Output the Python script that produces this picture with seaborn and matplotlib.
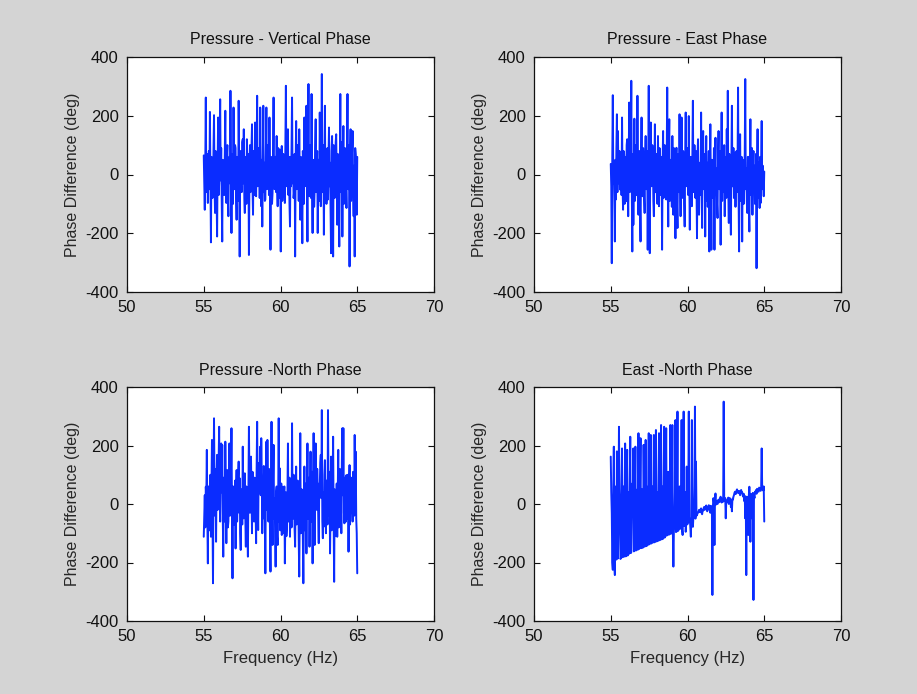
import numpy as np
import pandas as pd
import matplotlib
matplotlib.use("Agg")
import matplotlib.pyplot as plt
import seaborn as sns

# Panel titles and axis labels
titles = ["Pressure - Vertical Phase", "Pressure - East Phase",
          "Pressure -North Phase", "East -North Phase"]
x_label = "Frequency (Hz)"
y_label = "Phase Difference (deg)"
x_ticks = [50, 55, 60, 65, 70]
y_ticks = [-400, -200, 0, 200, 400]

# Phase differences (deg), 300 frequency bins between 55 and 65 Hz
pressure_vertical = [
    65, -30, -120, 40, 262, -60, -40, 70, -97, 20, 80, -50, 213, -20, -231, 60, 50, -80, -60, 90,
    202, -40, -131, 80, 70, -60, -211, 30, 194, -70, -30, 100, 256, -20, 90, -90, -228, 50, 40, -60,
    -70, 90, 217, -50, -97, 60, 100, -80, -142, 40, 60, -30, 285, 20, -199, 70, 50, -100, 228, -40,
    -50, 100, 90, -70, -154, 60, 30, -90, 251, 30, -279, 50, 80, -40, -60, 110, 120, -30, 154, -80,
    -131, 40, 60, -100, 120, 30, -80, 70, -274, -20, 100, -60, -40, 90, 171, -50, -137, 80, 70, -70,
    177, -30, -74, 60, 268, -40, -30, 90, 80, -80, 228, 20, -108, 50, -177, 40, 234, -60, 40, -90,
    -85, 70, 228, -50, -20, 100, 90, -70, 194, -30, -256, 60, 30, -100, -63, 80, 262, -20, -50, 60,
    60, -60, 131, -40, -108, 90, 40, -80, 85, 30, -262, 50, 97, -90, -30, 70, 50, -50, -97, 100,
    302, -40, -20, 80, 154, -70, 60, -100, -177, 60, -40, 90, 262, -30, 30, -80, -60, 70, -279, 40,
    182, -50, -40, 100, 70, -90, 154, -20, -154, 60, 50, -70, -234, 80, 20, -100, 194, -40, -30, 90,
    234, -60, -228, 70, 308, -30, -74, 100, 60, -80, 274, -40, -199, 50, 40, -110, -50, 90, 188, -60,
    20, 80, -199, -20, 50, -90, 211, 30, -108, 70, 342, -60, -40, 100, -205, 40, 234, -70, 30, -100,
    -60, 90, -85, 60, 160, -40, 40, -110, -268, 80, 131, -50, -279, 100, 50, -80, -20, 110, 137, -30,
    -171, 70, 60, -90, -245, 40, 274, -60, -30, 110, -211, 20, 165, -100, 40, 90, -60, -40, -114, 80,
    274, -30, -50, 100, -313, 60, 154, -90, 40, 80, 148, -60, -142, 30, -279, 90, 68, -40, -137, 60,
]

pressure_east = [
    36, -40, -302, 60, 270, -30, 40, -80, -228, 50, -85, 90, 205, -60, 148, -20, -30, 80, -51, 40,
    60, -70, 194, -40, -120, 80, 70, -100, -40, 60, -91, 100, 120, -30, -142, 40, 245, -60, -20, 90,
    319, -50, -262, 70, -171, 30, 190, -90, -60, 100, 50, -70, 268, -20, -137, 60, 80, -110, -228, 40,
    194, -60, -74, 90, 40, -80, -131, 50, 131, -30, -50, 80, -256, 20, 302, -70, -268, 60, 177, -40,
    -30, 100, 60, -90, -142, 30, 171, -60, -60, 70, 40, -100, 131, -20, -108, 90, 50, -70, -40, 60,
    -256, 40, 148, -80, -20, 100, 70, -40, -85, 60, 296, -30, -177, 80, 188, -90, -50, 50, 30, -110,
    131, -50, -137, 90, 60, -70, -217, 30, 91, -100, -182, 70, 20, -60, 205, -30, -142, 40, 194, -80,
    -40, 80, 50, -100, -177, 60, 211, -40, -30, 90, 40, -70, 199, -20, -188, 50, 60, -90, -108, 70,
    251, -60, -40, 100, 30, -80, 80, -30, -217, 60, 120, -100, -137, 40, 20, -70, 211, -40, -182, 90,
    148, -50, -30, 70, -211, 20, 131, -90, 40, -110, -60, 80, -262, 40, 171, -60, -256, 50, 30, -80,
    -40, 90, -256, 30, 125, -70, 20, -100, -148, 60, 148, -40, -50, 80, -239, 20, 211, -90, 40, -60,
    -30, 100, -142, 40, 60, -80, 154, -30, 285, -60, -165, 70, 20, -100, -205, 50, 234, -40, -40, 90,
    -80, 60, 74, -110, 30, 80, -60, 40, 296, -70, -262, 30, 137, -90, 20, 60, -228, 40, 50, -100,
    -40, 70, 325, -50, 20, -90, -131, 60, 60, -110, -194, 30, 188, -70, -20, 90, -137, 20, 80, -60,
    30, -100, -50, 70, -319, 20, 154, -80, 40, -40, -114, 60, -97, 30, 182, -50, 30, -20, -74, 10,
]

pressure_north = [
    -112, -40, 30, -80, 59, 20, 185, -50, -203, 60, 40, -90, 50, 100, -112, 40, 219, -30, -271, 70,
    293, 60, -40, 120, -129, 80, 168, -20, 30, 140, 264, 10, -60, 110, 207, 40, 202, -30, -180, 90,
    50, -60, 213, 20, -134, 70, 116, -80, -60, 90, 207, -40, -30, 100, 259, -20, -254, 60, 59, -70,
    -20, 80, -152, 40, 116, -60, 20, 90, 145, -30, 88, -100, -157, 50, 30, -70, 196, 10, -49, 70,
    105, -50, -146, 60, 40, -90, -180, 30, 264, 80, -30, 130, 162, 40, -100, 110, 50, -40, -60, 90,
    80, -20, -134, 120, 281, 50, -89, 140, 40, 90, 196, 30, 225, 100, -100, 60, -49, 130, 60, -30,
    -237, 80, 213, -20, 219, 40, -60, 120, 50, -90, -231, 60, 281, 10, -140, 90, 202, -50, 20, -80,
    -214, 40, 60, -110, -140, 20, 293, -60, 122, -90, -40, 70, -106, -20, 59, -100, 20, 60, -203, -40,
    40, -110, -77, 30, 207, -60, -30, 90, -112, 40, 50, -80, 276, -30, -50, 100, 30, -90, -146, 50,
    128, -70, -40, 80, 60, -120, -248, -30, 242, -100, -60, 50, 40, -130, -271, -40, 128, -90, 20, 70,
    -169, 30, 207, -50, -30, 90, -146, 20, 179, -60, 40, 110, -203, 60, 242, -20, -140, 80, 207, 30,
    -20, 120, 50, -40, -134, 70, 60, 140, 168, 20, 321, -60, -117, 40, -77, 100, 150, -30, -100, 80,
    30, -70, 321, 60, -40, 110, -169, -20, 162, -90, 20, 80, 230, -60, -266, 50, 40, -110, -30, 70,
    -112, 40, 185, -80, 20, 120, -40, 60, -100, 140, 259, 30, 259, -30, -66, 90, 30, -60, 99, 10,
    -50, 100, -163, 40, 133, -70, 20, 90, -30, 60, -60, 110, 40, -40, 236, 30, 179, -50, -100, -237,
]

east_north = [
    162, 40, -32, -200, -225, 50, 196, -210, -243, -80, 60, -190, 180, 20, -186, -60, 264, 50, -30, -188,
    -184, 30, 190, -182, 20, 60, -180, -40, 207, -179, -178, 50, 185, -176, 40, -20, -170, 60, 230, -168,
    -165, -30, 70, 40, 190, -162, -160, 55, 196, -159, -158, 10, 50, -156, 242, -154, -152, 60, 225, -151,
    -20, 50, -150, -148, 202, 30, -146, 60, 219, -144, 60, -142, -140, 40, 242, -138, -136, 50, 236, -135,
    -10, 60, -132, 20, 236, -131, -130, 45, 253, -128, 40, -127, -126, 55, 242, -124, -123, 30, 270, -121,
    60, -120, -118, 50, 264, -115, -112, 40, 259, -108, -106, 60, 110, -105, -104, 30, 270, -102, -100, 50,
    270, -98, -214, -90, -72, 40, 287, -96, -95, 60, 316, -92, -90, 20, 60, -85, -80, 50, 287, -88,
    -106, 30, 316, -75, -70, 40, -95, -60, 128, -70, -66, 20, 316, -60, -50, -80, -112, -55, 287, -65,
    -78, -45, -40, 60, 333, -50, 145, -40, -38, -32, -30, -26, -20, -24, -28, -18, -15, -30, -35, -22,
    -22, -14, -10, -20, -18, -8, -5, -15, -25, -10, -12, -4, -20, -12, -30, -6, -15, -10, -311, -8,
    20, 5, -140, 10, 36, -2, 10, 4, 0, 12, 15, 6, 8, 18, 25, 10, 5, 14, 18, 8,
    350, 12, 10, 20, -49, 8, 5, 15, 12, 22, 0, 10, 20, 14, -10, 5, -25, 18, 15, 25,
    30, 38, 42, 34, 35, 46, 50, 40, 38, 44, 45, 36, 30, 42, 48, 38, 40, 30, 25, 35,
    10, 28, -49, 20, -243, 25, 20, -60, -106, 30, 59, 20, -129, 35, 30, -20, -50, 38, -328, 30,
    20, 42, 40, 48, 35, 52, 50, 44, 42, 56, 54, 48, 45, 58, 190, 52, 59, 46, 60, -60,
]

series = [pressure_vertical, pressure_east, pressure_north, east_north]

sns.set_style("ticks")
plt.rcParams["font.family"] = ["Liberation Sans", "DejaVu Sans"]
plt.rcParams.update({
    "axes.unicode_minus": False,
    "xtick.direction": "in",
    "ytick.direction": "in",
    "xtick.top": True,
    "ytick.right": True,
    "xtick.major.size": 4,
    "ytick.major.size": 4,
    "xtick.major.width": 0.8,
    "ytick.major.width": 0.8,
    "axes.linewidth": 0.9,
    "axes.edgecolor": "#111111",
    "xtick.color": "#111111",
    "ytick.color": "#111111",
    "text.color": "#111111",
})

bg = "#d4d4d4"
fig = plt.figure(figsize=(9.17, 6.94), dpi=100, facecolor=bg)

W, H = 917, 694
boxes = [(127, 57, 434, 292), (534, 57, 841, 292),
         (127, 387, 434, 621), (534, 387, 841, 621)]

for k, (box, title, vals) in enumerate(zip(boxes, titles, series)):
    x0, y0, x1, y1 = box
    ax = fig.add_axes([x0 / W, 1 - y1 / H, (x1 - x0) / W, (y1 - y0) / H])
    ax.set_facecolor("white")
    freq = np.linspace(55, 65, len(vals))
    df = pd.DataFrame({"freq": freq, "phase": vals})
    sns.lineplot(data=df, x="freq", y="phase", ax=ax, color="#0a2cff",
                 linewidth=1.4, sort=False, estimator=None)
    ax.set_xlim(50, 70)
    ax.set_ylim(-400, 400)
    ax.set_xticks(x_ticks)
    ax.set_yticks(y_ticks)
    ax.tick_params(labelsize=12, pad=6)
    ax.set_title(title, fontsize=11.5, pad=9)
    ax.set_ylabel(y_label, fontsize=11.5, labelpad=4)
    ax.set_xlabel(x_label if k >= 2 else "", fontsize=12, labelpad=5)

fig.savefig("out.png", dpi=100, facecolor=bg)
